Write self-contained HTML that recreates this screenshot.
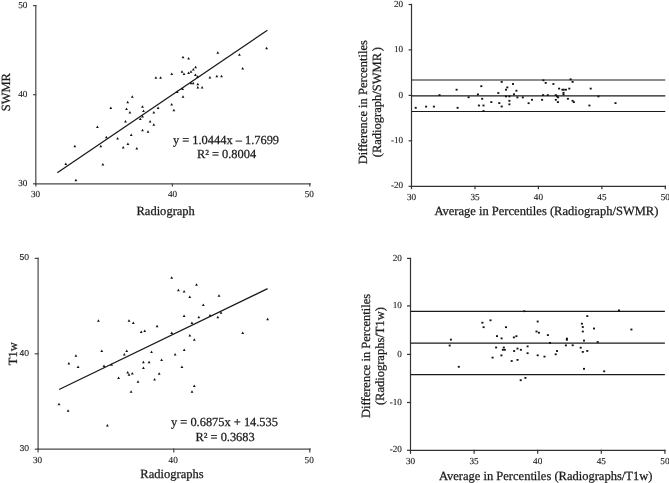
<!DOCTYPE html>
<html><head><meta charset="utf-8"><title>Scatter and Bland-Altman plots</title>
<style>
html,body{margin:0;padding:0;background:#fff;}
body{width:669px;height:483px;overflow:hidden;font-family:"Liberation Serif",serif;}
svg{display:block;filter:grayscale(1);}
text{text-rendering:geometricPrecision;}
</style></head>
<body>
<svg width="669" height="483" viewBox="0 0 669 483">
<g stroke="#484848" stroke-width="1.2" fill="none" stroke-linecap="square">
<line x1="35.8" y1="5.6" x2="35.8" y2="183.8"/>
<line x1="35.8" y1="183.8" x2="310.2" y2="183.8"/>
<line x1="33.599999999999994" y1="5.6" x2="35.8" y2="5.6"/>
<line x1="33.599999999999994" y1="94.7" x2="35.8" y2="94.7"/>
<line x1="33.599999999999994" y1="183.8" x2="35.8" y2="183.8"/>
<line x1="35.8" y1="183.8" x2="35.8" y2="186.0"/>
<line x1="172.4" y1="183.8" x2="172.4" y2="186.0"/>
<line x1="309.8" y1="183.8" x2="309.8" y2="186.0"/>
<line x1="38.1" y1="258.4" x2="38.1" y2="449.2"/>
<line x1="38.1" y1="449.2" x2="310.2" y2="449.2"/>
<line x1="35.300000000000004" y1="258.4" x2="38.1" y2="258.4"/>
<line x1="35.300000000000004" y1="353.8" x2="38.1" y2="353.8"/>
<line x1="35.300000000000004" y1="449.2" x2="38.1" y2="449.2"/>
<line x1="38.1" y1="449.2" x2="38.1" y2="452.0"/>
<line x1="173.8" y1="449.2" x2="173.8" y2="452.0"/>
<line x1="309.8" y1="449.2" x2="309.8" y2="452.0"/>
</g>
<g stroke="#333" stroke-width="1.2" fill="none" stroke-linecap="square">
<line x1="411.5" y1="4.5" x2="411.5" y2="186.3"/>
<line x1="411.5" y1="186.3" x2="665.3" y2="186.3"/>
<line x1="409.2" y1="4.5" x2="411.5" y2="4.5"/>
<line x1="409.2" y1="49.9" x2="411.5" y2="49.9"/>
<line x1="409.2" y1="95.4" x2="411.5" y2="95.4"/>
<line x1="409.2" y1="140.8" x2="411.5" y2="140.8"/>
<line x1="409.2" y1="186.3" x2="411.5" y2="186.3"/>
<line x1="411.5" y1="186.3" x2="411.5" y2="188.60000000000002"/>
<line x1="475.0" y1="186.3" x2="475.0" y2="188.60000000000002"/>
<line x1="538.4" y1="186.3" x2="538.4" y2="188.60000000000002"/>
<line x1="601.9" y1="186.3" x2="601.9" y2="188.60000000000002"/>
<line x1="665.3" y1="186.3" x2="665.3" y2="188.60000000000002"/>
<line x1="410.5" y1="258.4" x2="410.5" y2="450.3"/>
<line x1="410.5" y1="450.3" x2="664.9" y2="450.3"/>
<line x1="407.6" y1="258.4" x2="410.5" y2="258.4"/>
<line x1="407.6" y1="305.9" x2="410.5" y2="305.9"/>
<line x1="407.6" y1="354.4" x2="410.5" y2="354.4"/>
<line x1="407.6" y1="402.5" x2="410.5" y2="402.5"/>
<line x1="407.6" y1="450.3" x2="410.5" y2="450.3"/>
<line x1="410.5" y1="450.3" x2="410.5" y2="453.2"/>
<line x1="474.1" y1="450.3" x2="474.1" y2="453.2"/>
<line x1="537.7" y1="450.3" x2="537.7" y2="453.2"/>
<line x1="601.3" y1="450.3" x2="601.3" y2="453.2"/>
<line x1="664.9" y1="450.3" x2="664.9" y2="453.2"/>
</g>
<g stroke="#1a1a1a" stroke-width="1.3" fill="none">
<line x1="57.3" y1="172.7" x2="267.4" y2="30.2"/>
<line x1="59.1" y1="389.5" x2="267.6" y2="288.7"/>
</g>
<g stroke="#1a1a1a" stroke-width="1.2" fill="none">
<line x1="411.5" y1="80.0" x2="665.3" y2="80.0"/>
<line x1="411.5" y1="95.8" x2="665.3" y2="95.8"/>
<line x1="411.5" y1="111.5" x2="665.3" y2="111.5"/>
<line x1="410.5" y1="311.4" x2="664.9" y2="311.4"/>
<line x1="410.5" y1="343.1" x2="664.9" y2="343.1"/>
<line x1="410.5" y1="374.6" x2="664.9" y2="374.6"/>
</g>
<g fill="#111" stroke="none">
<polygon points="75.90,178.70 77.30,181.20 74.50,181.20"/>
<polygon points="65.80,162.50 67.20,165.00 64.40,165.00"/>
<polygon points="102.90,162.90 104.30,165.40 101.50,165.40"/>
<polygon points="74.80,144.70 76.20,147.20 73.40,147.20"/>
<polygon points="100.80,144.70 102.20,147.20 99.40,147.20"/>
<polygon points="123.20,146.10 124.60,148.60 121.80,148.60"/>
<polygon points="127.90,142.50 129.30,145.00 126.50,145.00"/>
<polygon points="106.30,135.70 107.70,138.20 104.90,138.20"/>
<polygon points="117.60,136.90 119.00,139.40 116.20,139.40"/>
<polygon points="131.20,133.50 132.60,136.00 129.80,136.00"/>
<polygon points="97.40,125.50 98.80,128.00 96.00,128.00"/>
<polygon points="125.50,120.10 126.90,122.60 124.10,122.60"/>
<polygon points="140.30,117.60 141.70,120.10 138.90,120.10"/>
<polygon points="142.50,115.00 143.90,117.50 141.10,117.50"/>
<polygon points="150.10,120.10 151.50,122.60 148.70,122.60"/>
<polygon points="153.80,123.30 155.20,125.80 152.40,125.80"/>
<polygon points="142.50,128.80 143.90,131.30 141.10,131.30"/>
<polygon points="148.00,130.30 149.40,132.80 146.60,132.80"/>
<polygon points="136.80,147.10 138.20,149.60 135.40,149.60"/>
<polygon points="129.90,111.00 131.30,113.50 128.50,113.50"/>
<polygon points="126.50,107.50 127.90,110.00 125.10,110.00"/>
<polygon points="127.70,100.80 129.10,103.30 126.30,103.30"/>
<polygon points="132.30,95.20 133.70,97.70 130.90,97.70"/>
<polygon points="110.80,106.50 112.20,109.00 109.40,109.00"/>
<polygon points="142.50,105.20 143.90,107.70 141.10,107.70"/>
<polygon points="143.50,109.50 144.90,112.00 142.10,112.00"/>
<polygon points="153.80,111.00 155.20,113.50 152.40,113.50"/>
<polygon points="158.10,106.40 159.50,108.90 156.70,108.90"/>
<polygon points="171.70,103.10 173.10,105.60 170.30,105.60"/>
<polygon points="173.90,108.80 175.30,111.30 172.50,111.30"/>
<polygon points="177.20,90.40 178.60,92.90 175.80,92.90"/>
<polygon points="182.60,87.50 184.00,90.00 181.20,90.00"/>
<polygon points="183.00,95.20 184.40,97.70 181.60,97.70"/>
<polygon points="191.00,81.70 192.40,84.20 189.60,84.20"/>
<polygon points="193.20,81.70 194.60,84.20 191.80,84.20"/>
<polygon points="197.80,82.70 199.20,85.20 196.40,85.20"/>
<polygon points="197.80,86.00 199.20,88.50 196.40,88.50"/>
<polygon points="202.10,86.10 203.50,88.60 200.70,88.60"/>
<polygon points="155.90,76.20 157.30,78.70 154.50,78.70"/>
<polygon points="160.60,76.20 162.00,78.70 159.20,78.70"/>
<polygon points="171.70,72.40 173.10,74.90 170.30,74.90"/>
<polygon points="182.00,70.20 183.40,72.70 180.60,72.70"/>
<polygon points="184.00,72.60 185.40,75.10 182.60,75.10"/>
<polygon points="188.60,71.50 190.00,74.00 187.20,74.00"/>
<polygon points="191.00,70.20 192.40,72.70 189.60,72.70"/>
<polygon points="193.30,68.00 194.70,70.50 191.90,70.50"/>
<polygon points="195.60,65.70 197.00,68.20 194.20,68.20"/>
<polygon points="195.40,73.60 196.80,76.10 194.00,76.10"/>
<polygon points="197.50,75.20 198.90,77.70 196.10,77.70"/>
<polygon points="209.90,76.00 211.30,78.50 208.50,78.50"/>
<polygon points="216.80,74.80 218.20,77.30 215.40,77.30"/>
<polygon points="221.50,74.80 222.90,77.30 220.10,77.30"/>
<polygon points="183.00,55.70 184.40,58.20 181.60,58.20"/>
<polygon points="188.60,56.90 190.00,59.40 187.20,59.40"/>
<polygon points="217.80,51.30 219.20,53.80 216.40,53.80"/>
<polygon points="239.40,53.30 240.80,55.80 238.00,55.80"/>
<polygon points="242.70,67.00 244.10,69.50 241.30,69.50"/>
<polygon points="266.60,46.70 268.00,49.20 265.20,49.20"/>
<polygon points="59.00,402.80 60.40,405.30 57.60,405.30"/>
<polygon points="68.10,409.30 69.50,411.80 66.70,411.80"/>
<polygon points="107.40,424.10 108.80,426.60 106.00,426.60"/>
<polygon points="75.90,354.20 77.30,356.70 74.50,356.70"/>
<polygon points="68.90,362.10 70.30,364.60 67.50,364.60"/>
<polygon points="78.10,365.40 79.50,367.90 76.70,367.90"/>
<polygon points="101.80,349.50 103.20,352.00 100.40,352.00"/>
<polygon points="104.00,364.60 105.40,367.10 102.60,367.10"/>
<polygon points="111.60,363.30 113.00,365.80 110.20,365.80"/>
<polygon points="129.00,319.20 130.40,321.70 127.60,321.70"/>
<polygon points="133.30,321.40 134.70,323.90 131.90,323.90"/>
<polygon points="141.20,330.40 142.60,332.90 139.80,332.90"/>
<polygon points="144.70,329.40 146.10,331.90 143.30,331.90"/>
<polygon points="157.10,324.80 158.50,327.30 155.70,327.30"/>
<polygon points="126.70,349.60 128.10,352.10 125.30,352.10"/>
<polygon points="124.30,353.00 125.70,355.50 122.90,355.50"/>
<polygon points="151.50,350.60 152.90,353.10 150.10,353.10"/>
<polygon points="143.40,360.70 144.80,363.20 142.00,363.20"/>
<polygon points="149.10,360.70 150.50,363.20 147.70,363.20"/>
<polygon points="143.40,366.40 144.80,368.90 142.00,368.90"/>
<polygon points="127.70,371.10 129.10,373.60 126.30,373.60"/>
<polygon points="129.00,373.20 130.40,375.70 127.60,375.70"/>
<polygon points="132.30,372.10 133.70,374.60 130.90,374.60"/>
<polygon points="118.60,376.50 120.00,379.00 117.20,379.00"/>
<polygon points="138.00,380.30 139.40,382.80 136.60,382.80"/>
<polygon points="154.60,377.90 156.00,380.40 153.20,380.40"/>
<polygon points="159.20,372.20 160.60,374.70 157.80,374.70"/>
<polygon points="131.10,390.20 132.50,392.70 129.70,392.70"/>
<polygon points="171.70,276.30 173.10,278.80 170.30,278.80"/>
<polygon points="196.50,283.30 197.90,285.80 195.10,285.80"/>
<polygon points="178.40,288.80 179.80,291.30 177.00,291.30"/>
<polygon points="184.10,289.90 185.50,292.40 182.70,292.40"/>
<polygon points="189.80,295.60 191.20,298.10 188.40,298.10"/>
<polygon points="203.30,303.50 204.70,306.00 201.90,306.00"/>
<polygon points="184.10,314.50 185.50,317.00 182.70,317.00"/>
<polygon points="198.80,315.80 200.20,318.30 197.40,318.30"/>
<polygon points="191.90,321.40 193.30,323.90 190.50,323.90"/>
<polygon points="171.70,331.60 173.10,334.10 170.30,334.10"/>
<polygon points="189.80,333.90 191.20,336.40 188.40,336.40"/>
<polygon points="194.30,338.30 195.70,340.80 192.90,340.80"/>
<polygon points="184.20,348.60 185.60,351.10 182.80,351.10"/>
<polygon points="175.10,353.10 176.50,355.60 173.70,355.60"/>
<polygon points="161.60,358.60 163.00,361.10 160.20,361.10"/>
<polygon points="181.90,365.40 183.30,367.90 180.50,367.90"/>
<polygon points="194.30,384.50 195.70,387.00 192.90,387.00"/>
<polygon points="192.00,390.30 193.40,392.80 190.60,392.80"/>
<polygon points="219.00,294.30 220.40,296.80 217.60,296.80"/>
<polygon points="210.00,313.90 211.40,316.40 208.60,316.40"/>
<polygon points="221.00,311.30 222.40,313.80 219.60,313.80"/>
<polygon points="217.80,315.80 219.20,318.30 216.40,318.30"/>
<polygon points="267.60,317.80 269.00,320.30 266.20,320.30"/>
<polygon points="242.70,331.60 244.10,334.10 241.30,334.10"/>
<polygon points="98.40,319.20 99.80,321.70 97.00,321.70"/>
<rect x="414.7" y="106.9" width="2" height="1.8"/>
<rect x="425.1" y="105.7" width="2" height="1.8"/>
<rect x="432.9" y="105.7" width="2" height="1.8"/>
<rect x="438.5" y="94.2" width="2" height="1.8"/>
<rect x="455.6" y="88.8" width="2" height="1.8"/>
<rect x="456.6" y="106.9" width="2" height="1.8"/>
<rect x="467.6" y="96.4" width="2" height="1.8"/>
<rect x="476.9" y="93.5" width="2" height="1.8"/>
<rect x="480.3" y="85.3" width="2" height="1.8"/>
<rect x="481.2" y="97.9" width="2" height="1.8"/>
<rect x="477.9" y="104.6" width="2" height="1.8"/>
<rect x="482.5" y="104.6" width="2" height="1.8"/>
<rect x="482.5" y="110.1" width="2" height="1.8"/>
<rect x="490.3" y="101.2" width="2" height="1.8"/>
<rect x="497.3" y="92.1" width="2" height="1.8"/>
<rect x="498.3" y="102.2" width="2" height="1.8"/>
<rect x="500.7" y="81.0" width="2" height="1.8"/>
<rect x="500.7" y="105.6" width="2" height="1.8"/>
<rect x="505.0" y="88.8" width="2" height="1.8"/>
<rect x="506.3" y="86.5" width="2" height="1.8"/>
<rect x="505.0" y="95.5" width="2" height="1.8"/>
<rect x="508.4" y="95.5" width="2" height="1.8"/>
<rect x="508.4" y="99.9" width="2" height="1.8"/>
<rect x="508.4" y="103.4" width="2" height="1.8"/>
<rect x="512.0" y="83.1" width="2" height="1.8"/>
<rect x="513.0" y="93.4" width="2" height="1.8"/>
<rect x="515.4" y="89.8" width="2" height="1.8"/>
<rect x="516.4" y="96.5" width="2" height="1.8"/>
<rect x="521.8" y="96.5" width="2" height="1.8"/>
<rect x="527.6" y="102.3" width="2" height="1.8"/>
<rect x="531.0" y="98.9" width="2" height="1.8"/>
<rect x="541.1" y="98.9" width="2" height="1.8"/>
<rect x="542.1" y="94.2" width="2" height="1.8"/>
<rect x="546.8" y="94.2" width="2" height="1.8"/>
<rect x="542.4" y="79.4" width="2" height="1.8"/>
<rect x="544.7" y="82.0" width="2" height="1.8"/>
<rect x="552.4" y="83.1" width="2" height="1.8"/>
<rect x="554.8" y="94.2" width="2" height="1.8"/>
<rect x="556.1" y="95.5" width="2" height="1.8"/>
<rect x="557.1" y="96.5" width="2" height="1.8"/>
<rect x="554.8" y="98.9" width="2" height="1.8"/>
<rect x="556.9" y="101.2" width="2" height="1.8"/>
<rect x="558.1" y="87.7" width="2" height="1.8"/>
<rect x="561.4" y="88.8" width="2" height="1.8"/>
<rect x="562.8" y="88.8" width="2" height="1.8"/>
<rect x="564.9" y="88.8" width="2" height="1.8"/>
<rect x="568.3" y="87.7" width="2" height="1.8"/>
<rect x="562.5" y="91.9" width="2" height="1.8"/>
<rect x="562.5" y="93.6" width="2" height="1.8"/>
<rect x="566.9" y="97.9" width="2" height="1.8"/>
<rect x="569.6" y="78.4" width="2" height="1.8"/>
<rect x="571.6" y="81.0" width="2" height="1.8"/>
<rect x="571.6" y="99.9" width="2" height="1.8"/>
<rect x="572.8" y="101.2" width="2" height="1.8"/>
<rect x="589.7" y="87.7" width="2" height="1.8"/>
<rect x="588.4" y="104.6" width="2" height="1.8"/>
<rect x="597.4" y="95.5" width="2" height="1.8"/>
<rect x="614.5" y="102.2" width="2" height="1.8"/>
<rect x="449.9" y="338.7" width="2" height="1.8"/>
<rect x="448.7" y="344.6" width="2" height="1.8"/>
<rect x="457.8" y="365.9" width="2" height="1.8"/>
<rect x="481.4" y="321.8" width="2" height="1.8"/>
<rect x="489.5" y="319.4" width="2" height="1.8"/>
<rect x="482.6" y="326.3" width="2" height="1.8"/>
<rect x="505.0" y="326.3" width="2" height="1.8"/>
<rect x="496.0" y="335.2" width="2" height="1.8"/>
<rect x="500.6" y="337.5" width="2" height="1.8"/>
<rect x="512.9" y="336.5" width="2" height="1.8"/>
<rect x="515.4" y="335.3" width="2" height="1.8"/>
<rect x="495.1" y="346.6" width="2" height="1.8"/>
<rect x="502.8" y="346.6" width="2" height="1.8"/>
<rect x="501.9" y="348.9" width="2" height="1.8"/>
<rect x="503.8" y="348.9" width="2" height="1.8"/>
<rect x="513.1" y="350.1" width="2" height="1.8"/>
<rect x="516.5" y="347.7" width="2" height="1.8"/>
<rect x="519.9" y="348.9" width="2" height="1.8"/>
<rect x="491.6" y="356.7" width="2" height="1.8"/>
<rect x="500.4" y="354.5" width="2" height="1.8"/>
<rect x="510.7" y="360.1" width="2" height="1.8"/>
<rect x="516.5" y="359.0" width="2" height="1.8"/>
<rect x="523.3" y="310.3" width="2" height="1.8"/>
<rect x="536.7" y="320.6" width="2" height="1.8"/>
<rect x="535.5" y="330.6" width="2" height="1.8"/>
<rect x="537.9" y="331.8" width="2" height="1.8"/>
<rect x="546.9" y="334.2" width="2" height="1.8"/>
<rect x="565.9" y="337.7" width="2" height="1.8"/>
<rect x="565.9" y="338.9" width="2" height="1.8"/>
<rect x="549.0" y="342.0" width="2" height="1.8"/>
<rect x="564.9" y="344.5" width="2" height="1.8"/>
<rect x="526.6" y="345.5" width="2" height="1.8"/>
<rect x="556.0" y="350.1" width="2" height="1.8"/>
<rect x="526.6" y="352.3" width="2" height="1.8"/>
<rect x="554.7" y="353.4" width="2" height="1.8"/>
<rect x="536.7" y="354.4" width="2" height="1.8"/>
<rect x="543.5" y="355.7" width="2" height="1.8"/>
<rect x="586.3" y="315.2" width="2" height="1.8"/>
<rect x="580.9" y="322.8" width="2" height="1.8"/>
<rect x="581.8" y="326.1" width="2" height="1.8"/>
<rect x="581.8" y="330.6" width="2" height="1.8"/>
<rect x="593.0" y="327.6" width="2" height="1.8"/>
<rect x="583.0" y="339.7" width="2" height="1.8"/>
<rect x="596.7" y="341.1" width="2" height="1.8"/>
<rect x="571.7" y="344.4" width="2" height="1.8"/>
<rect x="579.7" y="346.8" width="2" height="1.8"/>
<rect x="581.8" y="351.0" width="2" height="1.8"/>
<rect x="586.3" y="350.0" width="2" height="1.8"/>
<rect x="583.0" y="367.9" width="2" height="1.8"/>
<rect x="603.2" y="370.4" width="2" height="1.8"/>
<rect x="618.0" y="309.5" width="2" height="1.8"/>
<rect x="630.4" y="328.6" width="2" height="1.8"/>
<rect x="519.7" y="379.3" width="2" height="1.8"/>
<rect x="524.4" y="377.0" width="2" height="1.8"/>
</g>
<g fill="#1a1a1a" stroke="#1a1a1a" stroke-width="0.25">
<text x="27.4" y="7.5" font-size="9.2" text-anchor="end" font-family="'Liberation Serif', serif" stroke-width="0.12" >50</text>
<text x="27.4" y="96.8" font-size="9.2" text-anchor="end" font-family="'Liberation Serif', serif" stroke-width="0.12" >40</text>
<text x="27.4" y="186.0" font-size="9.2" text-anchor="end" font-family="'Liberation Serif', serif" stroke-width="0.12" >30</text>
<text x="35.5" y="197.1" font-size="9.2" text-anchor="middle" font-family="'Liberation Serif', serif" stroke-width="0.12" >30</text>
<text x="172.5" y="197.1" font-size="9.2" text-anchor="middle" font-family="'Liberation Serif', serif" stroke-width="0.12" >40</text>
<text x="309.3" y="197.1" font-size="9.2" text-anchor="middle" font-family="'Liberation Serif', serif" stroke-width="0.12" >50</text>
<text x="0" y="0" font-size="12.52" text-anchor="middle" font-family="'Liberation Serif', serif" stroke-width="0.25" transform="translate(9.9,92.2) rotate(-90)">SWMR</text>
<text x="165.7" y="214.9" font-size="12.52" text-anchor="middle" font-family="'Liberation Serif', serif" stroke-width="0.25" >Radiograph</text>
<text x="226.0" y="143.5" font-size="12.4" text-anchor="middle" font-family="'Liberation Serif', serif" stroke-width="0.25" >y = 1.0444x &#8211; 1.7699</text>
<text x="226.5" y="158.0" font-size="12.4" text-anchor="middle" font-family="'Liberation Serif', serif" stroke-width="0.25" >R&#178; = 0.8004</text>
<text x="403.2" y="6.6" font-size="9.2" text-anchor="end" font-family="'Liberation Serif', serif" stroke-width="0.12" >20</text>
<text x="403.2" y="52.0" font-size="9.2" text-anchor="end" font-family="'Liberation Serif', serif" stroke-width="0.12" >10</text>
<text x="403.2" y="97.5" font-size="9.2" text-anchor="end" font-family="'Liberation Serif', serif" stroke-width="0.12" >0</text>
<text x="403.2" y="142.9" font-size="9.2" text-anchor="end" font-family="'Liberation Serif', serif" stroke-width="0.12" >-10</text>
<text x="403.2" y="188.4" font-size="9.2" text-anchor="end" font-family="'Liberation Serif', serif" stroke-width="0.12" >-20</text>
<text x="411.5" y="199.6" font-size="9.2" text-anchor="middle" font-family="'Liberation Serif', serif" stroke-width="0.12" >30</text>
<text x="475.0" y="199.6" font-size="9.2" text-anchor="middle" font-family="'Liberation Serif', serif" stroke-width="0.12" >35</text>
<text x="538.4" y="199.6" font-size="9.2" text-anchor="middle" font-family="'Liberation Serif', serif" stroke-width="0.12" >40</text>
<text x="601.9" y="199.6" font-size="9.2" text-anchor="middle" font-family="'Liberation Serif', serif" stroke-width="0.12" >45</text>
<text x="665.3" y="199.6" font-size="9.2" text-anchor="middle" font-family="'Liberation Serif', serif" stroke-width="0.12" >50</text>
<text x="0" y="0" font-size="12.52" text-anchor="middle" font-family="'Liberation Serif', serif" stroke-width="0.25" transform="translate(366.9,102.2) rotate(-90)">Difference in Percentiles</text>
<text x="0" y="0" font-size="12.52" text-anchor="middle" font-family="'Liberation Serif', serif" stroke-width="0.25" transform="translate(381.4,102.1) rotate(-90)">(Radiograph/SWMR<tspan dx="1.8">)</tspan></text>
<text x="434.4" y="215.4" font-size="12.52" text-anchor="start" font-family="'Liberation Serif', serif" stroke-width="0.25" >Average in Percentiles (Radiograph/SWMR)</text>
<text x="29.0" y="259.70000000000005" font-size="8.6" text-anchor="end" font-family="'Liberation Sans', sans-serif" stroke-width="0.12" >50</text>
<text x="29.0" y="356.0" font-size="8.6" text-anchor="end" font-family="'Liberation Sans', sans-serif" stroke-width="0.12" >40</text>
<text x="29.0" y="451.40000000000003" font-size="8.6" text-anchor="end" font-family="'Liberation Sans', sans-serif" stroke-width="0.12" >30</text>
<text x="37.5" y="463.2" font-size="9.2" text-anchor="middle" font-family="'Liberation Serif', serif" stroke-width="0.12" >30</text>
<text x="173.20000000000002" y="463.2" font-size="9.2" text-anchor="middle" font-family="'Liberation Serif', serif" stroke-width="0.12" >40</text>
<text x="309.2" y="463.2" font-size="9.2" text-anchor="middle" font-family="'Liberation Serif', serif" stroke-width="0.12" >50</text>
<text x="0" y="0" font-size="12.52" text-anchor="middle" font-family="'Liberation Serif', serif" stroke-width="0.25" transform="translate(16.6,353.8) rotate(-90)">T1w</text>
<text x="172.0" y="477.9" font-size="12.52" text-anchor="middle" font-family="'Liberation Serif', serif" stroke-width="0.25" >Radiographs</text>
<text x="224.5" y="426.0" font-size="12.4" text-anchor="middle" font-family="'Liberation Serif', serif" stroke-width="0.25" >y = 0.6875x + 14.535</text>
<text x="225.1" y="441.0" font-size="12.4" text-anchor="middle" font-family="'Liberation Serif', serif" stroke-width="0.25" >R&#178; = 0.3683</text>
<text x="401.9" y="260.5" font-size="9.2" text-anchor="end" font-family="'Liberation Serif', serif" stroke-width="0.12" >20</text>
<text x="401.9" y="308.0" font-size="9.2" text-anchor="end" font-family="'Liberation Serif', serif" stroke-width="0.12" >10</text>
<text x="401.9" y="356.5" font-size="9.2" text-anchor="end" font-family="'Liberation Serif', serif" stroke-width="0.12" >0</text>
<text x="401.9" y="404.6" font-size="9.2" text-anchor="end" font-family="'Liberation Serif', serif" stroke-width="0.12" >-10</text>
<text x="401.9" y="452.40000000000003" font-size="9.2" text-anchor="end" font-family="'Liberation Serif', serif" stroke-width="0.12" >-20</text>
<text x="410.5" y="463.9" font-size="9.2" text-anchor="middle" font-family="'Liberation Serif', serif" stroke-width="0.12" >30</text>
<text x="474.1" y="463.9" font-size="9.2" text-anchor="middle" font-family="'Liberation Serif', serif" stroke-width="0.12" >35</text>
<text x="537.7" y="463.9" font-size="9.2" text-anchor="middle" font-family="'Liberation Serif', serif" stroke-width="0.12" >40</text>
<text x="601.3" y="463.9" font-size="9.2" text-anchor="middle" font-family="'Liberation Serif', serif" stroke-width="0.12" >45</text>
<text x="664.9" y="463.9" font-size="9.2" text-anchor="middle" font-family="'Liberation Serif', serif" stroke-width="0.12" >50</text>
<text x="0" y="0" font-size="12.52" text-anchor="middle" font-family="'Liberation Serif', serif" stroke-width="0.25" transform="translate(369.9,355.9) rotate(-90)">Difference in Percentiles</text>
<text x="0" y="0" font-size="12.52" text-anchor="middle" font-family="'Liberation Serif', serif" stroke-width="0.25" transform="translate(383.8,356.1) rotate(-90)">(Radiographs/T1w)</text>
<text x="438.9" y="479.6" font-size="12.52" text-anchor="start" font-family="'Liberation Serif', serif" stroke-width="0.25" >Average in Percentiles (Radiographs/T1w)</text>
</g>
</svg>
</body></html>
